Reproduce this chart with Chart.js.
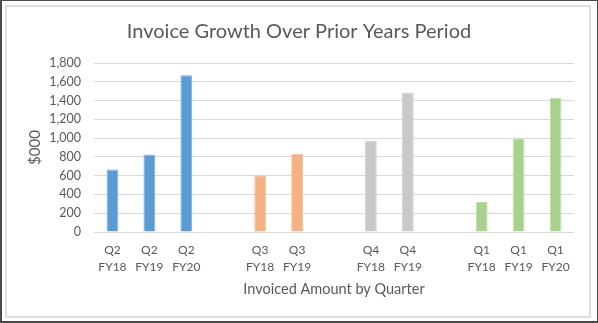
<!DOCTYPE html>
<html>
<head>
<meta charset="utf-8">
<script src="https://cdn.jsdelivr.net/npm/chart.js@4/dist/chart.umd.min.js"></script>
<style>
  html, body { margin: 0; padding: 0; background: #fff; }
  #wrap { position: relative; width: 598px; height: 323px; box-sizing: border-box;
          border-top: 1px solid #4a4a4a; border-right: 1px solid #4a4a4a;
          border-left: 2px solid #4a4a4a; border-bottom: 2px solid #4a4a4a; overflow: hidden; }
  #frame { position: absolute; left: 3px; top: 4px; width: 586px; height: 313px;
           box-sizing: border-box; border: 2px solid #dedede; }
  #c { position: absolute; left: -2px; top: -1px; }
</style>
</head>
<body>
<div id="wrap">
  <div id="frame"></div>
  <canvas id="c" width="598" height="323"></canvas>
</div>
<script>
const quarters = ["Q2", "Q2", "Q2", "", "Q3", "Q3", "", "Q4", "Q4", "", "Q1", "Q1", "Q1"];
const fiscalYears = ["FY18", "FY19", "FY20", "", "FY18", "FY19", "", "FY18", "FY19", "", "FY18", "FY19", "FY20"];
const invoiced = [665, 825, 1670, null, 605, 830, null, 975, 1485, null, 320, 995, 1430];
const barColors = ["#5B9BD5", "#5B9BD5", "#5B9BD5", null, "#F4B183", "#F4B183", null, "#C9C9C9", "#C9C9C9", null, "#A9D18E", "#A9D18E", "#A9D18E"];
const borderColors = ["#7DAFE0", "#7DAFE0", "#7DAFE0", null, "#F7C4A0", "#F7C4A0", null, "#D6D6D6", "#D6D6D6", null, "#BCDDA6", "#BCDDA6", "#BCDDA6"];
const yTicks = [0, 200, 400, 600, 800, 1000, 1200, 1400, 1600, 1800];

const labels = quarters.map((q, i) => q ? [q, fiscalYears[i]] : "");
const textColor = "#595959";
const fam = "Lato, 'Open Sans', sans-serif";

new Chart(document.getElementById("c"), {
  type: "bar",
  data: {
    labels: labels,
    datasets: [{
      data: invoiced,
      backgroundColor: barColors.map(c => c || "rgba(0,0,0,0)"),
      borderColor: borderColors.map(c => c || "rgba(0,0,0,0)"),
      borderWidth: 1,
      barPercentage: 0.32,
      categoryPercentage: 1.0
    }]
  },
  options: {
    responsive: false,
    animation: false,
    layout: { padding: { left: 24, right: 24, top: 0, bottom: 10 } },
    plugins: {
      legend: { display: false },
      tooltip: { enabled: false },
      title: {
        display: true,
        text: "Invoice Growth Over Prior Years Period",
        color: textColor,
        font: { family: fam, size: 20, weight: "normal" },
        padding: { top: 20, bottom: 19 }
      }
    },
    scales: {
      x: {
        grid: { display: false, drawTicks: false },
        border: { display: false },
        ticks: {
          color: textColor,
          font: { family: fam, size: 12, lineHeight: 1.45 },
          padding: 9,
          maxRotation: 0,
          autoSkip: false
        },
        title: {
          display: true,
          text: "Invoiced Amount by Quarter",
          color: textColor,
          font: { family: fam, size: 14.5 },
          padding: { top: 0, bottom: 15 }
        },
        afterFit: s => { s.height = 81; }
      },
      y: {
        min: 0,
        max: 1800,
        afterBuildTicks: s => { s.ticks = yTicks.map(v => ({ value: v })); },
        grid: { color: "#D9D9D9", lineWidth: 1, drawTicks: false },
        border: { display: false },
        ticks: {
          color: textColor,
          font: { family: fam, size: 12.5 },
          padding: 13,
          callback: v => v.toLocaleString("en-US")
        },
        title: {
          display: true,
          text: "$000",
          color: textColor,
          font: { family: fam, size: 15 },
          padding: { top: 2, bottom: 0 }
        },
        afterFit: s => { s.width = 70; }
      }
    }
  }
});
</script>
</body>
</html>
